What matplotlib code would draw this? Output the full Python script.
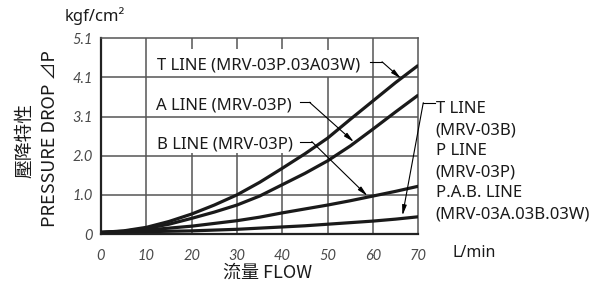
import numpy as np
import matplotlib
matplotlib.use("Agg")
import matplotlib.pyplot as plt

# flow in L/min, pressure drop in chart grid units (one unit per labelled gridline)
flow = [0, 5, 10, 15, 20, 25, 30, 35, 40, 45, 50, 55, 60, 65, 70]
t_line = [0.04, 0.08, 0.17, 0.32, 0.51, 0.74, 1.0, 1.32, 1.68, 2.05, 2.45, 2.93, 3.40, 3.87, 4.31]
a_line = [0.04, 0.07, 0.14, 0.25, 0.40, 0.56, 0.74, 0.97, 1.26, 1.55, 1.87, 2.25, 2.68, 3.12, 3.55]
b_line = [0.04, 0.06, 0.10, 0.15, 0.20, 0.27, 0.34, 0.43, 0.54, 0.64, 0.74, 0.85, 0.97, 1.09, 1.22]
pab_line = [0.04, 0.05, 0.06, 0.07, 0.08, 0.10, 0.12, 0.15, 0.18, 0.21, 0.25, 0.29, 0.33, 0.38, 0.44]

x_ticks = [0, 10, 20, 30, 40, 50, 60, 70]
y_tick_labels = ["0", "1.0", "2.0", "3.1", "4.1", "5.1"]

label_t = "T LINE (MRV-03P.03A03W)"
label_a = "A LINE (MRV-03P)"
label_b = "B LINE (MRV-03P)"
label_right = ["T LINE", "(MRV-03B)", "P LINE", "(MRV-03P)", "P.A.B. LINE", "(MRV-03A.03B.03W)"]

LABEL_FONT = ["Noto Sans", "DejaVu Sans"]
CJK_FONT = ["Noto Sans CJK TC", "DejaVu Sans"]
GRID = "#555555"
INK = "#1a1a1a"

fig = plt.figure(figsize=(6.03, 2.94), dpi=100)
ax = fig.add_axes([101 / 603, 60 / 294, 317.3 / 603, 195.7 / 294])
ax.set_xlim(0, 70)
ax.set_ylim(0, 5)

# grid: horizontal lines full width, vertical lines broken behind the labels
ax.hlines([1, 2, 3, 4], 0, 70, color=GRID, lw=1.1, zorder=1)
gaps = {10: None, 20: (2.06, 4.72), 30: (2.06, 4.72), 40: (2.06, 4.72), 50: (4.02, 4.70), 60: None}
for gx, gap in gaps.items():
    if gap is None:
        ax.vlines(gx, 0, 5, color=GRID, lw=1.1, zorder=1)
    else:
        ax.vlines(gx, 0, gap[0], color=GRID, lw=1.1, zorder=1)
        ax.vlines(gx, gap[1], 5, color=GRID, lw=1.1, zorder=1)

for ys in (t_line, a_line, b_line, pab_line):
    ax.plot(flow, ys, color=INK, lw=2.3, solid_capstyle="butt", solid_joinstyle="round", zorder=3)

for side in ("top", "right"):
    ax.spines[side].set_color(GRID)
    ax.spines[side].set_linewidth(1.1)
for side in ("left", "bottom"):
    ax.spines[side].set_color("#222222")
    ax.spines[side].set_linewidth(1.6)

ax.set_xticks(x_ticks)
ax.set_xticklabels([str(v) for v in x_ticks])
ax.set_yticks(range(len(y_tick_labels)))
ax.set_yticklabels(y_tick_labels)
ax.tick_params(length=0)
ax.tick_params(axis="x", pad=11)
ax.tick_params(axis="y", pad=6)
for lab in ax.get_xticklabels() + ax.get_yticklabels():
    lab.set_fontfamily(["Lato", "DejaVu Sans"])
    lab.set_fontstyle("italic")
    lab.set_fontsize(10.5)
    lab.set_color("#4a4a4a")

# curve labels
ax.text(12.3, 4.21, label_t, fontsize=12, family=LABEL_FONT, color=INK, va="baseline")
ax.text(12.1, 3.19, label_a, fontsize=12, family=LABEL_FONT, color=INK, va="baseline")
ax.text(12.3, 2.19, label_b, fontsize=12, family=LABEL_FONT, color=INK, va="baseline")
for i, line in enumerate(label_right):
    ax.text(73.8, 3.08 - i * 0.535, line, fontsize=12, family=LABEL_FONT, color=INK,
            va="baseline", clip_on=False)

arrow = dict(arrowstyle="-|>,head_length=0.6,head_width=0.13", lw=0.8, color="black",
             shrinkA=0, shrinkB=0)
leaders = [
    ((59.3, 62.0), 4.40, (66.2, 3.97)),
    ((43.8, 46.0), 3.365, (55.8, 2.35)),
    ((43.9, 46.5), 2.36, (58.8, 0.97)),
]
for (x0, x1), y0, tip in leaders:
    ax.plot([x0, x1], [y0, y0], color="black", lw=0.8, zorder=4)
    ax.annotate("", xy=tip, xytext=(x1, y0), arrowprops=arrow, zorder=4)
ax.plot([71.1, 73.7], [3.355, 3.355], color="black", lw=0.8, clip_on=False, zorder=4)
ax.annotate("", xy=(66.5, 0.47), xytext=(71.1, 3.355), arrowprops=arrow,
            annotation_clip=False, zorder=4)

# axis titles
fig.text(65 / 603, 273 / 294, "kgf/cm²", fontsize=12, family=LABEL_FONT, color=INK, va="baseline")
fig.text(452 / 603, 37 / 294, "L/min", fontsize=11.5, family=LABEL_FONT, color=INK, va="baseline")
fig.text(268 / 603, 21 / 294, "流量 FLOW", fontsize=13, family=CJK_FONT, color=INK,
         ha="center", va="center")
fig.text(25 / 603, 154 / 294, "壓降特性", fontsize=13.5, family=CJK_FONT, color=INK,
         rotation=90, ha="center", va="center")
fig.text(50 / 603, 155 / 294, "PRESSURE DROP ⊿P", fontsize=13, family=CJK_FONT, color=INK,
         rotation=90, ha="center", va="center")

fig.savefig("out.png", dpi=100)
